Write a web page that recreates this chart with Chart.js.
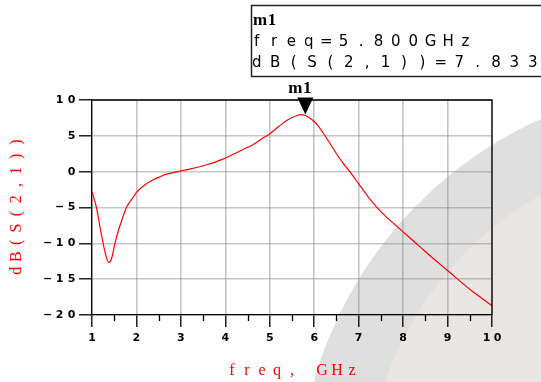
<!DOCTYPE html>
<html>
<head>
<meta charset="utf-8">
<script src="https://cdn.jsdelivr.net/npm/chart.js@4/dist/chart.umd.min.js"></script>
<style>
  html, body { margin: 0; padding: 0; background: #ffffff; }
  #wrap { width: 541px; height: 382px; position: relative; }
</style>
</head>
<body>
<div id="wrap"><canvas id="c" width="541" height="382"></canvas></div>
<script>
// S21 magnitude sweep, 1–10 GHz
const freqGHz = [
  1.0, 1.1, 1.2, 1.3, 1.38, 1.45, 1.52, 1.6, 1.67, 1.79, 1.9,
  2.0, 2.1, 2.2, 2.3, 2.4, 2.5, 2.6, 2.7, 2.85,
  3.0, 3.2, 3.4, 3.6, 3.8, 4.0, 4.2, 4.4, 4.6, 4.8,
  5.0, 5.2, 5.4, 5.6, 5.7, 5.8, 5.9, 6.0, 6.1, 6.2, 6.35, 6.5, 6.65, 6.8,
  7.0, 7.2, 7.4, 7.6, 7.8, 8.0, 8.2, 8.4, 8.6, 8.8,
  9.0, 9.2, 9.4, 9.6, 9.8, 10.0
];
const s21dB = [
  -2.8, -5.0, -8.4, -11.4, -12.7, -11.9, -9.9, -8.1, -6.8, -4.8, -3.8,
  -2.9, -2.3, -1.8, -1.4, -1.05, -0.8, -0.5, -0.3, -0.1,
  0.1, 0.35, 0.65, 1.0, 1.4, 1.9, 2.5, 3.1, 3.7, 4.5,
  5.3, 6.3, 7.2, 7.8, 7.95, 7.833, 7.5, 7.0, 6.3, 5.4, 4.0, 2.5, 1.2, 0.0,
  -1.7, -3.4, -4.9, -6.2, -7.3, -8.4, -9.5, -10.6, -11.7, -12.75,
  -13.8, -14.85, -15.9, -16.9, -17.8, -18.7
];
const xTickValues = [1, 2, 3, 4, 5, 6, 7, 8, 9, 10];
const xMinorTicks = [1.5, 2.5, 3.5, 4.5, 5.5, 6.5, 7.5, 8.5, 9.5];
const yTickValues = [-20, -15, -10, -5, 0, 5, 10];
const xTitle = 'freq, GHz';
const yTitle = 'dB(S(2,1))';
const markerName = 'm1';
const markerFreq = 5.8;
const markerValue = 7.833;

// draw a string one glyph at a time on a fixed pitch
function spaced(ctx, str, x, y, pitch, align) {
  const chars = Array.from(str);
  const n = chars.length;
  let c0;
  if (align === 'center') c0 = x - (n - 1) * pitch / 2;
  else if (align === 'right') c0 = x - ctx.measureText(chars[n - 1]).width / 2 - (n - 1) * pitch;
  else c0 = x + ctx.measureText(chars[0]).width / 2;
  ctx.textAlign = 'center';
  chars.forEach((ch, i) => ctx.fillText(ch, c0 + i * pitch, y));
}

const decor = {
  id: 'decor',
  beforeDraw(chart) {
    const ctx = chart.ctx;
    ctx.save();
    ctx.fillStyle = '#ffffff';
    ctx.fillRect(0, 0, chart.width, chart.height);
    ctx.filter = 'blur(0.7px)';
    ctx.fillStyle = '#dfdfdf';
    ctx.beginPath(); ctx.arc(709, 494, 411, 0, Math.PI * 2); ctx.fill();
    ctx.fillStyle = '#e9e5e3';
    ctx.beginPath(); ctx.arc(709, 494, 343, 0, Math.PI * 2); ctx.fill();
    ctx.restore();
  },
  afterDraw(chart) {
    const ctx = chart.ctx;
    const xs = chart.scales.x, ys = chart.scales.y;
    const a = chart.chartArea;
    ctx.save();
    // frame
    ctx.strokeStyle = '#000';
    ctx.lineWidth = 1.3;
    ctx.beginPath();
    ctx.moveTo(a.left, a.top); ctx.lineTo(a.right, a.top); ctx.lineTo(a.right, a.bottom);
    ctx.stroke();
    // minor ticks
    xMinorTicks.forEach(v => {
      const px = Math.round(xs.getPixelForValue(v)) + 0.5;
      ctx.beginPath(); ctx.moveTo(px, a.bottom); ctx.lineTo(px, a.bottom + 6); ctx.stroke();
    });
    // tick labels
    ctx.fillStyle = '#000';
    ctx.font = 'bold 11px "DejaVu Sans"';
    ctx.textBaseline = 'middle';
    xTickValues.forEach(v => spaced(ctx, String(v), xs.getPixelForValue(v), 338, 11, 'center'));
    yTickValues.forEach(v => {
      const s = v < 0 ? '\u2212' + String(-v) : String(v);
      spaced(ctx, s, 75.5, ys.getPixelForValue(v), 12, 'right');
    });
    // axis titles
    ctx.fillStyle = '#ff0000';
    ctx.font = '16px "Liberation Serif"';
    spaced(ctx, xTitle, (a.left + a.right) / 2, 371, 15, 'center');
    ctx.save();
    ctx.translate(17, (a.top + a.bottom) / 2 - 1);
    ctx.rotate(-Math.PI / 2);
    spaced(ctx, yTitle, 0, 0, 14.3, 'center');
    ctx.restore();
    // marker
    const mx = xs.getPixelForValue(markerFreq), my = ys.getPixelForValue(markerValue);
    ctx.fillStyle = '#000';
    ctx.beginPath();
    ctx.moveTo(mx, my - 1); ctx.lineTo(mx - 8, my - 18); ctx.lineTo(mx + 8, my - 18); ctx.closePath();
    ctx.fill();
    ctx.font = 'bold 17px "Liberation Serif"';
    spaced(ctx, markerName, mx - 4, my - 27, 12, 'center');
    // readout box
    ctx.fillStyle = '#fff';
    ctx.fillRect(251, 5, 300, 71);
    ctx.strokeStyle = '#222';
    ctx.lineWidth = 1.5;
    ctx.strokeRect(251.5, 5.5, 300, 71);
    ctx.fillStyle = '#000';
    ctx.font = 'bold 17px "Liberation Serif"';
    spaced(ctx, markerName, 253, 21, 12, 'left');
    ctx.font = '15px "DejaVu Sans"';
    spaced(ctx, 'freq=' + markerFreq.toFixed(3) + 'GHz', 254, 42, 17.4, 'left');
    spaced(ctx, 'dB(S(2,1))=' + markerValue.toFixed(3), 252, 63, 18.4, 'left');
    ctx.restore();
  }
};

new Chart(document.getElementById('c'), {
  type: 'scatter',
  data: {
    datasets: [{
      data: freqGHz.map((f, i) => ({ x: f, y: s21dB[i] })),
      showLine: true,
      borderColor: '#ff0000',
      borderWidth: 1.2,
      pointRadius: 0,
      cubicInterpolationMode: 'monotone',
      fill: false
    }]
  },
  options: {
    responsive: false,
    devicePixelRatio: 1,
    animation: false,
    layout: { padding: { top: 100, right: 49, bottom: 0, left: 0 } },
    plugins: { legend: { display: false }, tooltip: { enabled: false } },
    scales: {
      x: {
        type: 'linear', min: 1, max: 10,
        afterBuildTicks: s => { s.ticks = xTickValues.map(v => ({ value: v })); },
        afterFit: s => { s.height = 67; },
        ticks: { display: false },
        grid: { color: 'rgba(140,140,140,0.5)', lineWidth: 1.6, tickColor: '#000', tickLength: 12, tickWidth: 1.3 },
        border: { color: '#000', width: 1.3 }
      },
      y: {
        type: 'linear', min: -20, max: 10,
        afterBuildTicks: s => { s.ticks = yTickValues.map(v => ({ value: v })); },
        afterFit: s => { s.width = 92; },
        ticks: { display: false },
        grid: { color: 'rgba(140,140,140,0.5)', lineWidth: 1.6, tickColor: '#000', tickLength: 13, tickWidth: 1.3 },
        border: { color: '#000', width: 1.3 }
      }
    }
  },
  plugins: [decor]
});
</script>
</body>
</html>
